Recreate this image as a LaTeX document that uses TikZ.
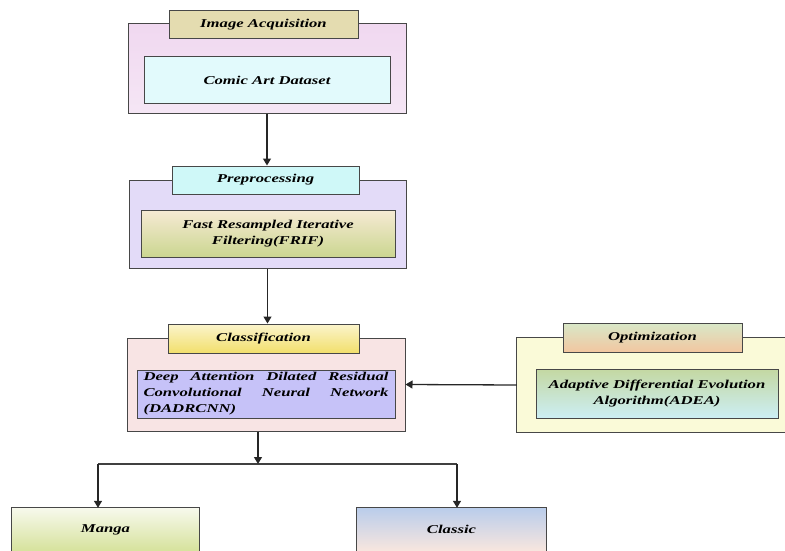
\documentclass[tikz,border=0pt]{standalone}
\usepackage{fontspec}
\setmainfont{Liberation Serif}[FakeStretch=1.39]
\usetikzlibrary{arrows.meta}
\definecolor{aouttop}{HTML}{F0D8F0}
\definecolor{aoutbot}{HTML}{F5E6F5}
\definecolor{atitle}{HTML}{E4DCB0}
\definecolor{ainner}{HTML}{E2FAFC}
\definecolor{bout}{HTML}{E3DBF8}
\definecolor{btitle}{HTML}{CFF8F8}
\definecolor{binnertop}{HTML}{F6EAD4}
\definecolor{binnerbot}{HTML}{CBD690}
\definecolor{cout}{HTML}{F8E4E4}
\definecolor{ctitletop}{HTML}{FBF4CC}
\definecolor{ctitlebot}{HTML}{F2DF6C}
\definecolor{cinner}{HTML}{C6C2F8}
\definecolor{oout}{HTML}{FAFAD8}
\definecolor{otitletop}{HTML}{D8E8C8}
\definecolor{otitlebot}{HTML}{F2C6A0}
\definecolor{oinnertop}{HTML}{C4D8A2}
\definecolor{oinnerbot}{HTML}{CCEEF4}
\definecolor{mangatop}{HTML}{F7F9EC}
\definecolor{mangabot}{HTML}{D6E29C}
\definecolor{classictop}{HTML}{BACDEB}
\definecolor{classicbot}{HTML}{F8E6DE}
\begin{document}
\begin{tikzpicture}[x=1pt,y=-1pt,
  box/.style={draw=black!72, line width=1pt, rectangle, inner sep=0pt,
    font=\fontsize{12}{15.5}\selectfont\bfseries\itshape, text=black, align=center},
  openbox/.style={rectangle, inner sep=0pt,
    font=\fontsize{12}{15.5}\selectfont\bfseries\itshape, text=black, align=center},
  edge3/.style={draw=black!72, line width=1pt},
  arr/.style={draw=black!85, line width=1.3pt, -{Triangle[length=7pt,width=8pt]}},
  ln/.style={draw=black!75, line width=1.3pt}]
\useasboundingbox (0,0) rectangle (785,551);

% Image acquisition
\node[box, top color=aouttop, bottom color=aoutbot, minimum width=278pt, minimum height=89pt] (b1) at (267,68.5) {};
\node[box, fill=ainner, minimum width=246pt, minimum height=47pt] (i1) at (267,80.5) {Comic Art Dataset};
\node[box, fill=atitle, minimum width=189pt, minimum height=28pt] (t1) at (263.5,25) {Image Acquisition};

% Preprocessing
\node[box, fill=bout, minimum width=277pt, minimum height=88pt] (b2) at (267.5,224) {};
\node[box, top color=binnertop, bottom color=binnerbot, minimum width=254pt, minimum height=47pt] (i2) at (268,233.5) {Fast Resampled Iterative\\Filtering(FRIF)};
\node[box, fill=btitle, minimum width=187pt, minimum height=28pt] (t2) at (265.5,180) {Preprocessing};

% Classification
\node[box, fill=cout, minimum width=278pt, minimum height=93pt] (b3) at (266,384.5) {};
\node[box, fill=cinner, minimum width=258pt, minimum height=48pt, text width=245pt, align=justify,
  font=\fontsize{12}{16}\selectfont\bfseries\itshape] (i3) at (266,394)
  {\hyphenpenalty=10000 Deep Attention Dilated Residual Convolutional Neural Network (DADRCNN)};
\node[box, top color=ctitletop, bottom color=ctitlebot, minimum width=191pt, minimum height=29pt] (t3) at (263.5,338.5) {Classification};

% Optimization
\node[openbox, fill=oout, minimum width=268pt, minimum height=94pt] (b4) at (651,385) {};
\draw[edge3] (b4.north east) -- (b4.north west) -- (b4.south west) -- (b4.south east);
\node[box, top color=oinnertop, bottom color=oinnerbot, minimum width=242pt, minimum height=49pt] (i4) at (657,393.5) {Adaptive Differential Evolution\\Algorithm(ADEA)};
\node[box, top color=otitletop, bottom color=otitlebot, minimum width=179pt, minimum height=29pt] (t4) at (652.5,337.5) {Optimization};

% Outputs
\node[openbox, top color=mangatop, bottom color=mangabot, minimum width=187pt, minimum height=43pt] (manga) at (105.5,529.5) {Manga};
\draw[edge3] (manga.south west) -- (manga.north west) -- (manga.north east) -- (manga.south east);
\node[openbox, top color=classictop, bottom color=classicbot, minimum width=189pt, minimum height=43pt] (classic) at (451.5,529.5) {Classic};
\draw[edge3] (classic.south west) -- (classic.north west) -- (classic.north east) -- (classic.south east);

% Connectors
\draw[arr] (b1.south) -- (b1.south |- t2.north);
\draw[arr] (b2.south) -- (b2.south |- t3.north);
\draw[arr] (b4.west) -- (b3.east);
\coordinate (split) at (258,464);
\coordinate (ml) at (98,464);
\coordinate (mr) at (457,464);
\draw[ln] (ml) -- (mr);
\draw[arr] (split |- b3.south) -- (split);
\draw[arr] (ml) -- (ml |- manga.north);
\draw[arr] (mr) -- (mr |- classic.north);
\end{tikzpicture}
\end{document}
